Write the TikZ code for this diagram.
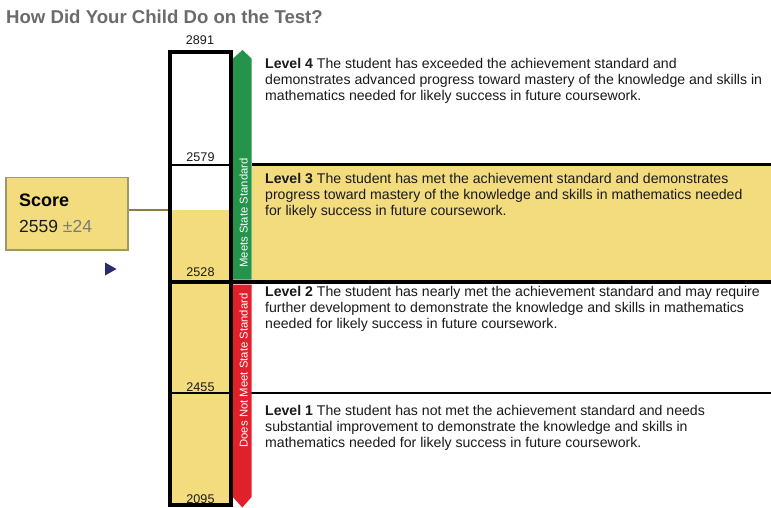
\documentclass[tikz,border=0pt]{standalone}
\usepackage{fontspec}
\setmainfont{Liberation Sans}
\definecolor{yel}{HTML}{F2DC7E}
\definecolor{grn}{HTML}{23944A}
\definecolor{rd}{HTML}{E0212B}
\definecolor{ttl}{HTML}{6B6B6B}
\definecolor{txt}{HTML}{1A1A1A}
\definecolor{olive}{HTML}{A09868}
\definecolor{conn}{HTML}{8B7D3A}
\definecolor{navy}{HTML}{2B2A6B}
\definecolor{pm}{HTML}{7A7A7A}
\begin{document}
\begin{tikzpicture}[x=1pt,y=-1pt,
  lvl/.style={anchor=north west, inner sep=0pt, align=left, text=txt, font=\fontsize{14.1}{16}\selectfont},
  num/.style={anchor=base, inner sep=0pt, text=txt, font=\fontsize{12.6}{14}\selectfont},
  vlab/.style={rotate=90, text=white, inner sep=0pt, font=\fontsize{11.3}{13}\selectfont},
  sepline/.style={draw=black}]
\useasboundingbox (0,0) rectangle (771,508);
\fill[white] (0,0) rectangle (771,508);
% title
\node[anchor=base west, inner sep=0pt, text=ttl, font=\fontsize{18.6}{22}\selectfont\bfseries] (title) at (6,23.3) {How Did Your Child Do on the Test?};
% yellow fills
\fill[yel] (252,165) rectangle (771,281);
\fill[yel] (170,210) rectangle (231,281);
\fill[yel] (170,283) rectangle (231,505);
% separator lines
\draw[line width=2pt] (170,164.5) -- (231,164.5);
\draw[line width=3pt] (252,164.5) -- (771,164.5);
\draw[line width=4.5pt] (168,282) -- (771,282);
\draw[line width=1.5pt] (170,392.8) -- (231,392.8);
\draw[line width=2pt] (251,393.2) -- (771,393.2);
% column
\node[draw, line width=4pt, minimum width=61pt, minimum height=453pt, inner sep=0pt] (col) at (200.5,278.5) {};
\coordinate (colhit) at (168,210);
% arrows
\fill[grn] (233,279.5) -- (233,58.5) -- (242.5,50) -- (251.5,58.5) -- (251.5,279.5) -- cycle;
\fill[rd] (232.8,284.5) -- (232.8,497) -- (242.3,507.5) -- (251.5,497) -- (251.5,284.5) -- cycle;
\node[vlab] (meets) at (243.6,213) {Meets State Standard};
\node[vlab] (notmeets) at (243.6,370.5) {Does Not Meet State Standard};
% scale numbers
\node[num] (n2891) at (200,45) {2891};
\node[num] (n2579) at (200.5,161.7) {2579};
\node[num] (n2528) at (200.5,276.7) {2528};
\node[num] (n2455) at (200.5,391) {2455};
\node[num] (n2095) at (200.5,503.3) {2095};
% score box
\node[draw=olive, line width=1.3pt, fill=yel, minimum width=122pt, minimum height=72.5pt, inner sep=0pt] (score) at (67,213.6) {};
\node[anchor=base west, inner sep=0pt, text=black, font=\fontsize{18}{22}\selectfont\bfseries] (scorelbl) at (19,206) {Score};
\node[anchor=base west, inner sep=0pt, text=txt, font=\fontsize{17.5}{21}\selectfont] (scoreval) at (19,232.7) {2559 \textcolor{pm}{±24}};
\draw[conn, line width=1.2pt] (score.east |- colhit) -- (colhit);
% marker
\fill[navy] (105,262.5) -- (105,275.5) -- (116.5,269) -- cycle;
% level texts
\node[lvl] (l4) at (265,56) {\rule{0pt}{12pt}\textbf{Level 4} The student has exceeded the achievement standard and\\demonstrates advanced progress toward mastery of the knowledge and skills in\\mathematics needed for likely success in future coursework.};
\node[lvl] (l3) at (265,171.5) {\rule{0pt}{12pt}\textbf{Level 3} The student has met the achievement standard and demonstrates\\progress toward mastery of the knowledge and skills in mathematics needed\\for likely success in future coursework.};
\node[lvl] (l2) at (265,284.7) {\rule{0pt}{12pt}\textbf{Level 2} The student has nearly met the achievement standard and may require\\further development to demonstrate the knowledge and skills in mathematics\\needed for likely success in future coursework.};
\node[lvl] (l1) at (265,403) {\rule{0pt}{12pt}\textbf{Level 1} The student has not met the achievement standard and needs\\substantial improvement to demonstrate the knowledge and skills in\\mathematics needed for likely success in future coursework.};
\end{tikzpicture}
\end{document}
